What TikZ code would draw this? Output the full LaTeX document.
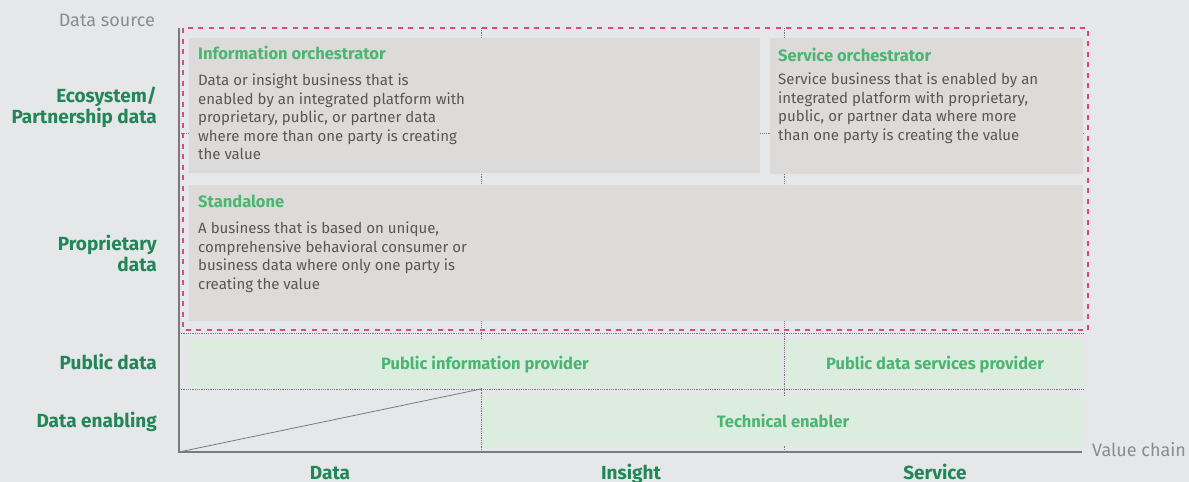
\documentclass[tikz,border=0pt]{standalone}
\usepackage{fontspec}
\setmainfont{Fira Sans}
\usepackage{tikz}
\usetikzlibrary{calc}
\definecolor{bgcol}{HTML}{E6E7E8}
\definecolor{boxgray}{HTML}{DCDBD9}
\definecolor{boxgreen}{HTML}{DCEDDF}
\definecolor{titlegreen}{HTML}{4AB672}
\definecolor{labelgreen}{HTML}{21865A}
\definecolor{textgray}{HTML}{575757}
\definecolor{axisgray}{HTML}{7A7A7A}
\definecolor{notegray}{HTML}{8C8C8C}
\definecolor{dashred}{HTML}{E4477A}
\newcommand{\cellgray}[4]{ \fill[boxgray] ( #1 , #2 ) rectangle ( #3 , #4 );}
\newcommand{\cellgreen}[4]{ \fill[boxgreen] ( #1 , #2 ) rectangle ( #3 , #4 );}
\tikzset{
  rowlabel/.style={anchor=east, align=right, text=labelgreen, inner sep=0pt, font=\bfseries\fontsize{19}{21}\selectfont},
  collabel/.style={anchor=base, text=labelgreen, inner sep=0pt, font=\bfseries\fontsize{19}{21}\selectfont},
  boxtitle/.style={anchor=base west, text=titlegreen, inner sep=0pt, font=\bfseries\fontsize{16.5}{19}\selectfont},
  boxtext/.style={anchor=north west, align=left, text=textgray, inner sep=0pt, font=\fontsize{15}{18.5}\selectfont},
  greenlabel/.style={anchor=base, text=titlegreen, inner sep=0pt, font=\bfseries\fontsize{16.5}{19}\selectfont},
  notetext/.style={text=notegray, inner sep=0pt, font=\fontsize{18}{21}\selectfont},
  gridline/.style={axisgray, densely dotted, line width=0.8pt},
  axisline/.style={axisgray, line width=1.1pt},
  frameline/.style={dashred, line width=1.6pt, dash pattern=on 5pt off 5.5pt}
}

\begin{document}
\begin{tikzpicture}[x=1pt, y=-1pt]
        \useasboundingbox[fill=bgcol] (0,0) rectangle (1189,482);
        % grid
        \draw[gridline] (179,133) -- (1083,133);
        \draw[gridline] (179,333) -- (1083,333);
        \draw[gridline] (179,389) -- (1083,389);
        \draw[gridline] (481,28) -- (481,452);
        \draw[gridline] (784,28) -- (784,452);
        % row1
        \cellgray{189}{38}{760}{173}
        \cellgray{770}{38}{1083}{174}
        % row2
        \cellgray{189}{185}{1083}{321}
        % row3
        \cellgreen{189}{339}{781}{387}
        \cellgreen{786}{339}{1083}{387}
        % row4
        \cellgreen{482}{397}{1083}{446}
        % frame
        \draw[frameline] (183,28) rectangle (1088,330);
        % axes
        \coordinate (origin) at (179,452);
        \coordinate (top) at (179,28);
        \coordinate (right) at (1082,452);
        \coordinate (cut) at (481,389);
        \draw[axisline] (top) -- (origin) -- (right);
        \draw[axisline, line width=0.8pt] (origin) -- (cut);
        \node[notetext, anchor=base east] (source) at (155,26) {Data source};
        \node[notetext, anchor=base west] (chain) at (1092,456) {Value chain};
        % boxes
        \node[boxtitle] (infotitle) at (198,59) {Information orchestrator};
        \node[boxtext] (infotext) at (198,74) {Data or insight business that is\\enabled by an integrated platform with\\proprietary, public, or partner data\\where more than one party is creating\\the value};
        \node[boxtitle] (servtitle) at (778,61) {Service orchestrator};
        \node[boxtext] (servtext) at (778,73) {Service business that is enabled by an\\integrated platform with proprietary,\\public, or partner data where more\\than one party is creating the value};
        \node[boxtitle] (alonetitle) at (198,207) {Standalone};
        \node[boxtext] (alonetext) at (198,222) {A business that is based on unique,\\comprehensive behavioral consumer or\\business data where only one party is\\creating the value};
        \node[greenlabel] (pubinfo) at (485,369) {Public information provider};
        \node[greenlabel] (pubserv) at (935,369) {Public data services provider};
        \node[greenlabel] (techen) at (783,427) {Technical enabler};
        % rows
        \node[rowlabel] (ecorow) at (157,107) {Ecosystem/\\Partnership data};
        \node[rowlabel] (proprow) at (157,253) {Proprietary\\data};
        \node[rowlabel, anchor=base east] (pubrow) at (157,369) {Public data};
        \node[rowlabel, anchor=base east] (enrow) at (157,427) {Data enabling};
        % columns
        \node[collabel] (datacol) at (330,479) {Data};
        \node[collabel] (insightcol) at (631,479) {Insight};
        \node[collabel] (servicecol) at (935,479) {Service};
    \end{tikzpicture}
\end{document}
